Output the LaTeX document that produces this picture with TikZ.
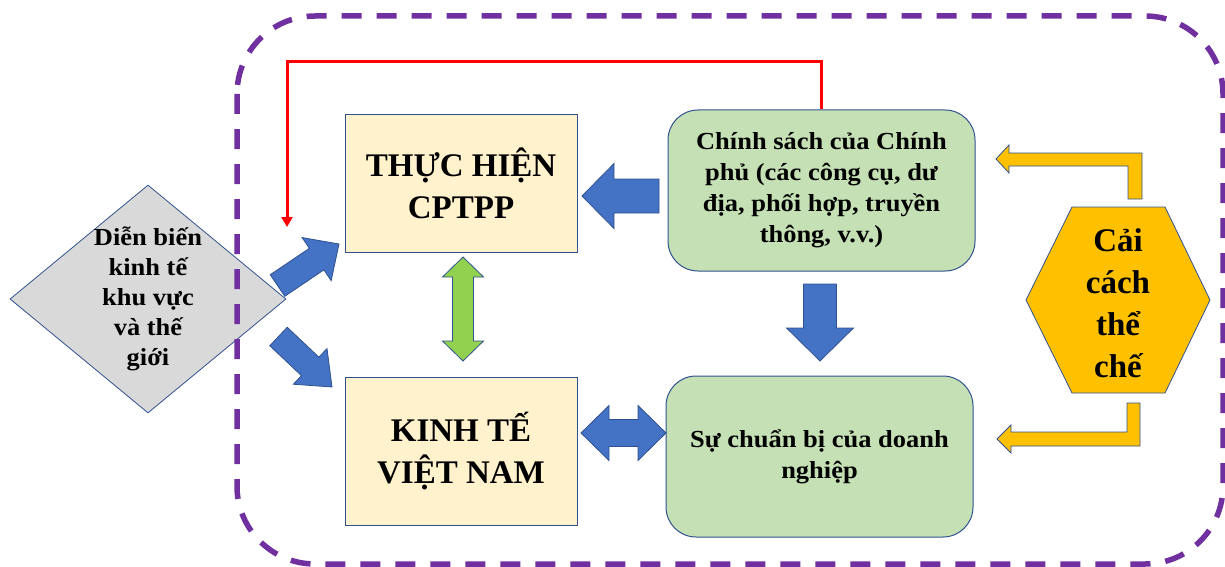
\documentclass[tikz,border=0pt]{standalone}
\usepackage{fontspec}
\setmainfont{Liberation Serif}[FakeStretch=1.08]
\newfontfamily\headfont{Liberation Serif}
\usetikzlibrary{calc,shapes.geometric,arrows.meta}

\definecolor{edgeblue}{HTML}{2F528F}
\definecolor{arrowblue}{HTML}{4472C4}
\definecolor{boxyellow}{HTML}{FFF2CC}
\definecolor{boxgreen}{HTML}{C5E0B4}
\definecolor{arrowgreen}{HTML}{92D050}
\definecolor{gold}{HTML}{FFC000}
\definecolor{framepurple}{HTML}{7030A0}
\definecolor{diamondgray}{HTML}{D9D9D9}

% block arrow: style, tail, tip, half shaft width, half head width, head length
\newcommand\blockarrow[6]{%
  \path ($(#3)!#6!(#2)$) coordinate (bah);
  \draw[#1] ($(#2)!#4!90:(#3)$) -- ($(bah)!#4!90:(#3)$) -- ($(bah)!#5!90:(#3)$)
    -- (#3) -- ($(bah)!#5!-90:(#3)$) -- ($(bah)!#4!-90:(#3)$)
    -- ($(#2)!#4!-90:(#3)$) -- cycle;
}
% double-headed block arrow: style, end A, end B, half shaft, half head, head length
\newcommand\duoarrow[6]{%
  \path ($(#2)!#6!(#3)$) coordinate (dha) ($(#3)!#6!(#2)$) coordinate (dhb);
  \draw[#1] (#2) -- ($(dha)!#5!90:(#3)$) -- ($(dha)!#4!90:(#3)$)
    -- ($(dhb)!#4!-90:(#2)$) -- ($(dhb)!#5!-90:(#2)$) -- (#3)
    -- ($(dhb)!#5!90:(#2)$) -- ($(dhb)!#4!90:(#2)$)
    -- ($(dha)!#4!-90:(#3)$) -- ($(dha)!#5!-90:(#3)$) -- cycle;
}

\tikzset{
  mainbox/.style={draw=edgeblue, line width=1pt, fill=boxyellow, minimum width=232pt,
    align=center, inner sep=0pt, font=\headfont\bfseries\fontsize{33}{42}\selectfont},
  greenbox/.style={draw=edgeblue, line width=1pt, fill=boxgreen, rounded corners=30pt,
    minimum width=307pt, minimum height=161pt, align=center, inner sep=0pt,
    font=\bfseries\fontsize{24.5}{31}\selectfont},
  bluearrow/.style={fill=arrowblue, draw=edgeblue, line width=0.8pt, line join=miter},
  greenarrow/.style={fill=arrowgreen, draw=edgeblue, line width=0.8pt, line join=miter},
  goldarrow/.style={fill=gold, draw=edgeblue, line width=0.8pt, line join=miter},
  feedback/.style={draw=red, line width=3pt, -{Triangle[width=11pt,length=10pt]}},
  frame/.style={draw=framepurple, line width=5.5pt, dash pattern=on 20pt off 15pt,
    rounded corners=78pt},
}

\begin{document}
\begin{tikzpicture}[x=1pt,y=-1pt]
\useasboundingbox (0,0) rectangle (1225,567);

% regional and world developments
\node[diamond, draw=edgeblue, line width=0.8pt, fill=diamondgray, minimum width=276pt,
  minimum height=228pt, inner sep=0pt] (dbshape) at (148,299) {};
\node[align=center, inner sep=0pt, font=\bfseries\fontsize{24.5}{30}\selectfont] (db)
  at (dbshape.center) {Diễn biến\\kinh tế\\khu vực\\và thế\\giới};

% outer dashed frame, drawn over the diamond
\draw[frame] (237,16) rectangle (1223,564);

% main boxes
\node[mainbox, minimum height=137pt] (thuc) at (461,183.5) {THỰC HIỆN\\CPTPP};
\node[mainbox, minimum height=148pt] (kinhte) at (461,451) {KINH TẾ\\VIỆT NAM};

\node[greenbox] (cs) at (821.5,190.5)
  {Chính sách của Chính\\phủ (các công cụ, dư\\địa, phối hợp, truyền\\thông, v.v.)};
\node[greenbox] (dn) at (819.5,456.5) {Sự chuẩn bị của doanh\\nghiệp};

% institutional reform hexagon
\coordinate (hexc) at (1118,300);
\draw[fill=gold, draw=edgeblue, line width=0.8pt]
  (1026,300) -- (1072,207) -- (1165,207) -- (1210,300) -- (1165,393) -- (1072,393) -- cycle;
\node[align=center, inner sep=0pt, font=\headfont\bfseries\fontsize{33}{42}\selectfont] (cai)
  at ($(hexc)+(0,3)$) {Cải\\cách\\thể\\chế};

% red feedback line from government policy
\coordinate (fbend) at (287,227);
\draw[feedback] (cs.north) -- ++(0,-48) -| (fbend);

% block arrows
\coordinate (upT) at (277.5,285.5);  \coordinate (upH) at (339,244);
\blockarrow{bluearrow}{upT}{upH}{13pt}{26pt}{27pt}
\coordinate (loT) at (278.5,336.5);  \coordinate (loH) at (332,387);
\blockarrow{bluearrow}{loT}{loH}{12.7pt}{24.5pt}{30pt}
\coordinate (csT) at (659,196);      \coordinate (csH) at (582,196);
\blockarrow{bluearrow}{csT}{csH}{17pt}{32.5pt}{32pt}
\coordinate (dnT) at (820,284);      \coordinate (dnH) at (820,361);
\blockarrow{bluearrow}{dnT}{dnH}{16.5pt}{33.5pt}{33pt}
\coordinate (hzA) at (581,433);      \coordinate (hzB) at (666,433);
\duoarrow{bluearrow}{hzA}{hzB}{13.5pt}{27.5pt}{28pt}
\coordinate (vtA) at (463,257);      \coordinate (vtB) at (463,361);
\duoarrow{greenarrow}{vtA}{vtB}{10.5pt}{20.5pt}{20pt}

% bent arrows from the reform hexagon
\draw[goldarrow] (1128,199) -- (1128,166) -- (1009,166) -- (1009,173) -- (996,159)
  -- (1009,145) -- (1009,153) -- (1142,153) -- (1142,199) -- cycle;
\draw[goldarrow] (1127,403) -- (1127,432) -- (1011,432) -- (1011,425) -- (997,439)
  -- (1011,453) -- (1011,446) -- (1140,446) -- (1140,403) -- cycle;
\end{tikzpicture}
\end{document}
